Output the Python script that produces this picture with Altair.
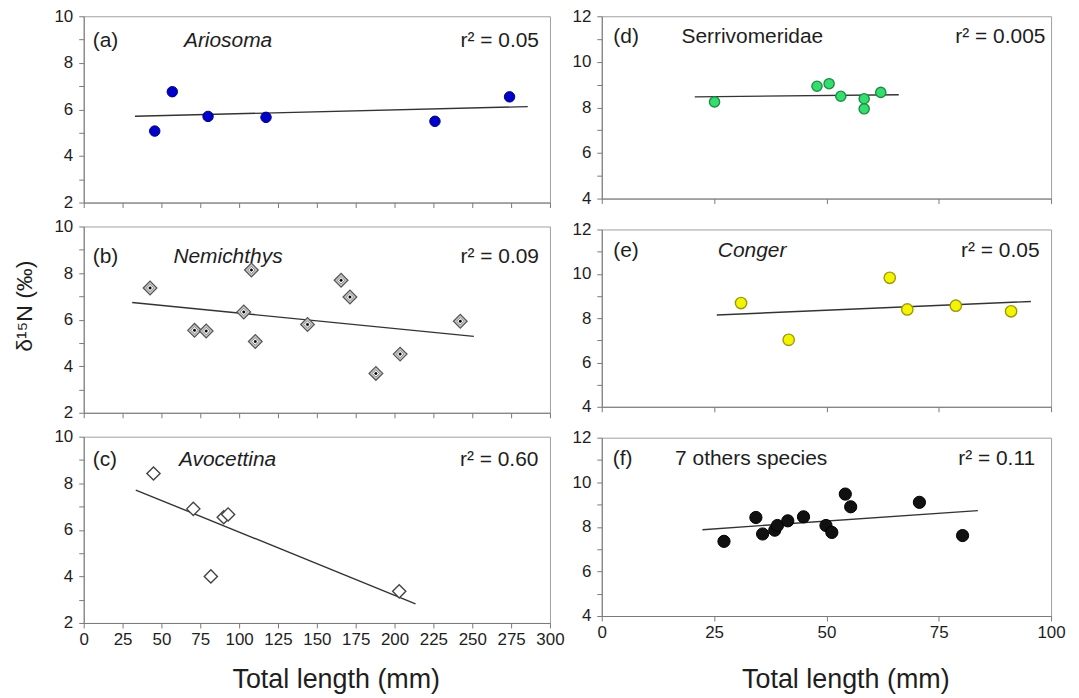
import altair as alt
import pandas as pd

FONT = "Liberation Sans"

# ---------------- data ----------------
# (a) Ariosoma
a_len = [45.7, 57.0, 80.0, 117.3, 226.0, 274.0]
a_d15n = [5.07, 6.76, 5.70, 5.66, 5.49, 6.54]
# (b) Nemichthys
b_len = [42.7, 71.3, 78.8, 103.0, 107.9, 110.4, 144.0, 165.6, 171.3, 188.0, 203.6, 242.3]
b_d15n = [7.36, 5.54, 5.51, 6.33, 8.13, 5.06, 5.79, 7.69, 6.97, 3.69, 4.52, 5.93]
# (c) Avocettina
c_len = [44.9, 70.5, 81.8, 90.1, 92.9, 203.0]
c_d15n = [8.42, 6.90, 4.00, 6.54, 6.66, 3.36]
# (d) Serrivomeridae
d_len = [25.1, 47.9, 50.6, 53.2, 58.4, 58.4, 62.1]
d_d15n = [8.24, 8.93, 9.04, 8.49, 8.38, 7.94, 8.66]
# (e) Conger
e_len = [31.0, 41.6, 64.1, 68.0, 78.8, 91.1]
e_d15n = [8.68, 7.02, 9.82, 8.39, 8.56, 8.31]
# (f) 7 others species
f_len = [27.2, 34.3, 35.8, 38.5, 39.1, 41.4, 44.9, 49.9, 51.2, 54.2, 55.4, 70.7, 80.3]
f_d15n = [7.35, 8.42, 7.68, 7.85, 8.06, 8.27, 8.45, 8.06, 7.75, 9.47, 8.90, 9.10, 7.61]

# regression-line extents (mm)
fit_extents = [[33, 285.7], [31.2, 251], [33.5, 213.5], [20.7, 66.1], [25.6, 95.5], [22.4, 83.7]]

panel_tags = ["(a)", "(b)", "(c)", "(d)", "(e)", "(f)"]
taxa = ["Ariosoma", "Nemichthys", "Avocettina", "Serrivomeridae", "Conger", "7 others species"]
taxa_italic = [True, True, True, False, True, False]
r2_labels = ["r² = 0.05", "r² = 0.09", "r² = 0.60", "r² = 0.005", "r² = 0.05", "r² = 0.11"]

left_xticks = [0, 25, 50, 75, 100, 125, 150, 175, 200, 225, 250, 275, 300]
right_xticks = [0, 25, 50, 75, 100]
left_yticks = [2, 3, 4, 5, 6, 7, 8, 9, 10]
right_yticks = [4, 5, 6, 7, 8, 9, 10, 11, 12]

X_TITLE = "Total length (mm)"
Y_TITLE = "δ¹⁵N (‰)"

AXIS_GREY = "#7a7a7a"
TEXT_COL = "#1e1e1e"


def panel(lens, vals, extent, xdom, xticks, ydom, yticks, width, height,
          point_layers, idx, text_y, tag_x, taxon_x, r2_right,
          show_xlabels=False, x_title=False, y_title=False, x_title_pad=19):
    df = pd.DataFrame({"len": lens, "d15n": vals})
    x_axis_kw = dict(values=xticks, labels=show_xlabels, labelFlush=False, grid=False,
                     tickSize=5, tickColor=AXIS_GREY, domainColor=AXIS_GREY,
                     labelFontSize=17, labelColor=TEXT_COL, labelPadding=4,
                     titleFontSize=27, titleFontWeight="normal", titleColor=TEXT_COL,
                     titlePadding=x_title_pad)
    if x_title:
        x_axis_kw["title"] = X_TITLE
        x_axis_kw["titleX"] = width / 2 + 19
    else:
        x_axis_kw["title"] = None
    y_axis_kw = dict(values=yticks, labelExpr="datum.value % 2 == 0 ? datum.label : ''",
                     grid=False, tickSize=5, tickColor=AXIS_GREY, domainColor=AXIS_GREY,
                     labelFontSize=17, labelColor=TEXT_COL, labelPadding=6,
                     titleFontSize=23, titleFontWeight="normal", titleColor=TEXT_COL,
                     titlePadding=17)
    if y_title:
        y_axis_kw["title"] = Y_TITLE
        y_axis_kw["titleY"] = height / 2 - 14
    else:
        y_axis_kw["title"] = None

    x = alt.X("len:Q", scale=alt.Scale(domain=xdom, nice=False, zero=False), axis=alt.Axis(**x_axis_kw))
    y = alt.Y("d15n:Q", scale=alt.Scale(domain=ydom, nice=False, zero=False), axis=alt.Axis(**y_axis_kw))

    base = alt.Chart(df)
    line = base.transform_regression("len", "d15n", extent=extent).mark_line(
        color="#333333", strokeWidth=1.4).encode(x=x, y=y)

    layers = [line]
    for kw in point_layers:
        layers.append(base.mark_point(filled=False, opacity=1, **kw).encode(x=x, y=y))

    tdf = pd.DataFrame({"t": [0]})
    tbase = alt.Chart(tdf)
    layers.append(tbase.mark_text(text=panel_tags[idx], align="left", baseline="middle",
                                  font=FONT, fontSize=21, color=TEXT_COL)
                  .encode(x=alt.value(tag_x), y=alt.value(text_y)))
    layers.append(tbase.mark_text(text=taxa[idx], align="left", baseline="middle",
                                  font=FONT, fontSize=21, color=TEXT_COL,
                                  fontStyle="italic" if taxa_italic[idx] else "normal")
                  .encode(x=alt.value(taxon_x), y=alt.value(text_y)))
    layers.append(tbase.mark_text(text=r2_labels[idx], align="right", baseline="middle",
                                  font=FONT, fontSize=21, color=TEXT_COL)
                  .encode(x=alt.value(width - r2_right), y=alt.value(text_y)))

    return alt.layer(*layers).properties(width=width, height=height)


LW, LH = 468, 187
RW = 451

pa = panel(a_len, a_d15n, fit_extents[0], [0, 300], left_xticks, [2, 10], left_yticks, LW, LH,
           [dict(shape="circle", size=110, fill="#0000c8", stroke="#00007a", strokeWidth=1)],
           0, 25, 9, 100.6, 11)
pb = panel(b_len, b_d15n, fit_extents[1], [0, 300], left_xticks, [2, 10], left_yticks, LW, LH,
           [dict(shape="diamond", size=190, fill="#c4c4c4", stroke="#555555", strokeWidth=1.2),
            dict(shape="diamond", size=55, fill="#ffffff", stroke="#8a8a8a", strokeWidth=1),
            dict(shape="circle", size=6, fill="#000000", stroke="#000000", strokeWidth=0.5)],
           1, 31, 9, 90, 11, y_title=True)
pc = panel(c_len, c_d15n, fit_extents[2], [0, 300], left_xticks, [2, 10], left_yticks, LW, LH,
           [dict(shape="diamond", size=175, fill="#ffffff", stroke="#444444", strokeWidth=1.4)],
           2, 23, 9, 95.6, 11.6, show_xlabels=True, x_title=True, x_title_pad=19)

pd_ = panel(d_len, d_d15n, fit_extents[3], [0, 100], right_xticks, [4, 12], right_yticks, RW, 183,
            [dict(shape="circle", size=105, fill="#33dd6e", stroke="#1e8c46", strokeWidth=1.4)],
            3, 21, 11.6, 80, 5.7)
pe = panel(e_len, e_d15n, fit_extents[4], [0, 100], right_xticks, [4, 12], right_yticks, RW, 178,
           [dict(shape="circle", size=130, fill="#f4f400", stroke="#9a9a10", strokeWidth=1.4)],
           4, 22, 11.5, 116.5, 11.6)
pf = panel(f_len, f_d15n, fit_extents[5], [0, 100], right_xticks, [4, 12], right_yticks, RW, 179,
           [dict(shape="circle", size=150, fill="#111111", stroke="#000000", strokeWidth=1)],
           5, 21.5, 11, 73.6, 16, show_xlabels=True, x_title=True, x_title_pad=26)

left = alt.vconcat(pa, pb, pc, spacing=24, bounds="flush")
right = alt.vconcat(pd_, pe, pf, spacing=31, bounds="flush")

chart = (alt.hconcat(left, right, spacing=6)
         .properties(padding={"left": 5, "top": -3, "right": 5, "bottom": 2})
         .configure(font=FONT)
         .configure_view(stroke="#a0a0a0", strokeWidth=1))

chart.save("out.html", embed_options={"renderer": "svg", "actions": False})
